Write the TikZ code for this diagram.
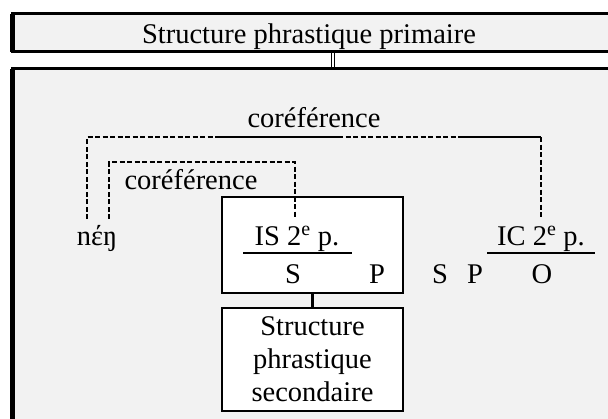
\documentclass[tikz,border=0pt]{standalone}
\usepackage{fontspec}
\setmainfont{Liberation Serif}
\definecolor{bg}{HTML}{F2F2F2}
\begin{document}
\begin{tikzpicture}[x=1pt,y=-1pt,
  txt/.style={font=\fontsize{28.5}{33}\selectfont, inner sep=0pt, anchor=base},
  outerbox/.style={draw, line width=3.4pt, fill=bg, anchor=north west, inner sep=0pt, outer sep=0pt},
  boxw/.style={draw, line width=2.4pt, fill=white, inner sep=0pt, outer sep=0pt},
  dsh/.style={line width=2.2pt, dash pattern=on 5pt off 2.5pt},
  sol/.style={line width=2.2pt}]
\useasboundingbox (0,0) rectangle (608,418);
\clip (0,0) rectangle (608,418);
\fill[white] (0,0) rectangle (608,418);
% outer boxes
\node[outerbox, minimum width=640pt, minimum height=38pt] (prim) at (12.5,13.5) {};
\node[outerbox, minimum width=640pt, minimum height=400pt] (big) at (12.5,68.5) {};
\draw[line width=5pt] (prim.north west) -- (prim.south west);
\draw[line width=5pt] (big.north west) -- (big.south west);
\node[txt] (primlbl) at (309,43) {Structure phrastique primaire};
\coordinate (cx) at (333,0);
\draw[double, line width=1.3pt, double distance=1.2pt, shorten <=1.7pt, shorten >=1.7pt] (prim.south -| cx) -- (big.north -| cx);
% inner boxes
\node[boxw, minimum width=181pt, minimum height=96pt] (isbox) at (312.5,245) {};
\node[boxw, minimum width=181pt, minimum height=103pt, align=center, font=\fontsize{28.5}{33}\selectfont] (sec) at (312.5,359.5) {Structure\\phrastique\\secondaire};
\draw[line width=2.2pt] (isbox.south) -- (sec.north);
% texts
\node[txt] (cor1) at (314,127) {coréférence};
\node[txt] (cor2) at (191,189) {coréférence};
\node[txt] (neng) at (97,245) {nέŋ};
\node[txt] (isl) at (297,245) {IS 2\textsuperscript{e} p.};
\node[txt] (s1) at (293,283) {S};
\node[txt] (p1) at (377,283) {P};
\node[txt] (s2) at (440,283) {S};
\node[txt] (p2) at (475,283) {P};
\node[txt] (icl) at (541,245) {IC 2\textsuperscript{e} p.};
\node[txt] (o) at (542,283) {O};
% fraction lines
\coordinate (isL) at (243,253);
\coordinate (isR) at (352,253);
\coordinate (icL) at (487,253);
\coordinate (icR) at (595,253);
\draw[line width=2.2pt] (isL) -- (isR);
\draw[line width=2.2pt] (icL) -- (icR);
% outer coreference bracket
\coordinate (a1) at (87,219);
\coordinate (a2) at (87,137);
\coordinate (a3) at (217,137);
\coordinate (a4) at (338,137);
\coordinate (a5) at (460,137);
\coordinate (a6) at (541,137);
\coordinate (a7) at (541,218);
\draw[dsh] (a1) -- (a2) -- (a3);
\draw[sol] (a3) -- (a4);
\draw[dsh] (a4) -- (a5);
\draw[sol] (a5) -- (a6);
\draw[dsh] (a6) -- (a7);
% inner coreference bracket
\coordinate (b1) at (109,219);
\coordinate (b2) at (109,162);
\coordinate (b3) at (295,162);
\coordinate (b4) at (295,218);
\draw[dsh] (b1) -- (b2) -- (b3) -- (b4);
\end{tikzpicture}
\end{document}
